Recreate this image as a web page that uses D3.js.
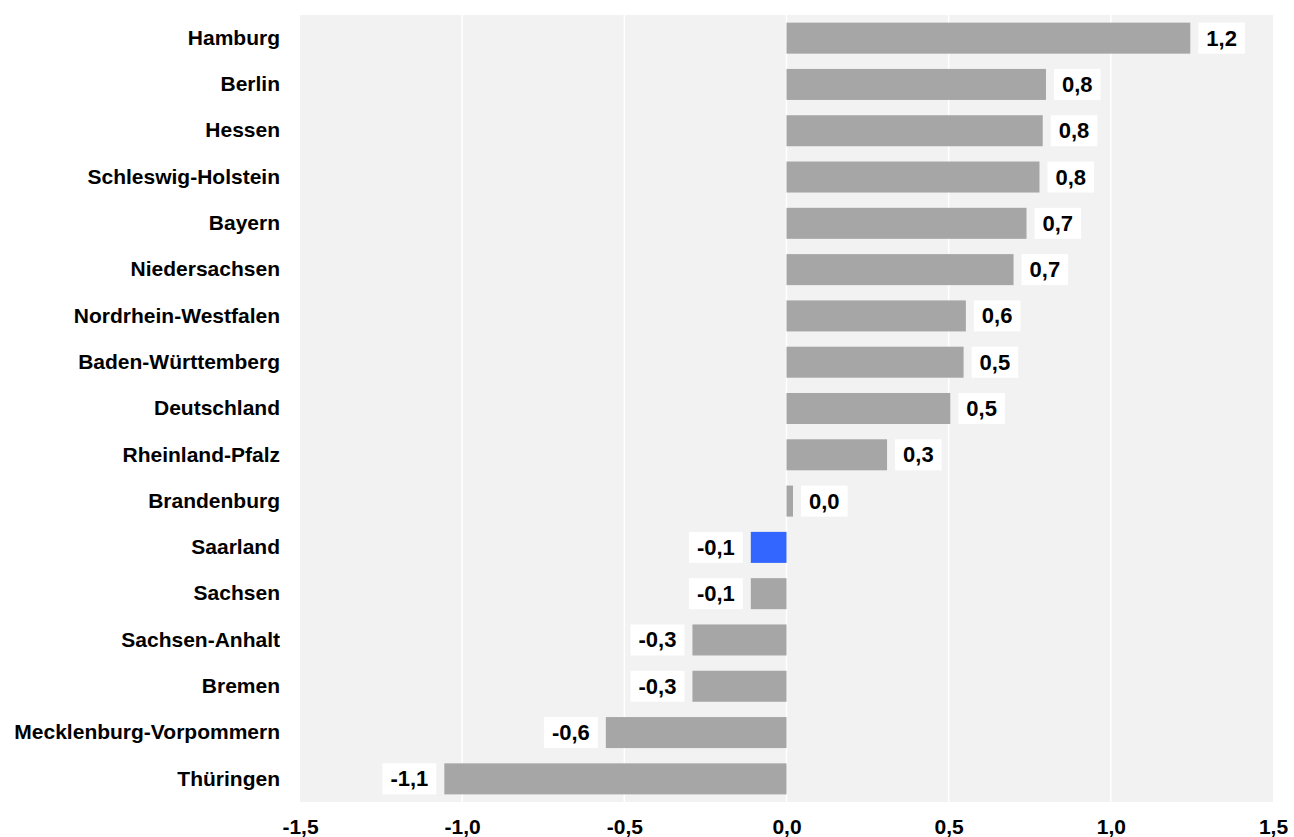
<!DOCTYPE html>
<html>
<head>
<meta charset="utf-8">
<script src="https://cdnjs.cloudflare.com/ajax/libs/d3/7.8.5/d3.min.js"></script>
<style>
body { margin: 0; background: #fff; }
text { font-family: "Liberation Sans", Arial, sans-serif; font-weight: bold; fill: #000; }
.grid line { stroke: #fff; stroke-width: 1.5; }
</style>
</head>
<body>
<script>

var laender = ["Hamburg", "Berlin", "Hessen", "Schleswig-Holstein", "Bayern", "Niedersachsen",
  "Nordrhein-Westfalen", "Baden-Württemberg", "Deutschland", "Rheinland-Pfalz", "Brandenburg",
  "Saarland", "Sachsen", "Sachsen-Anhalt", "Bremen", "Mecklenburg-Vorpommern", "Thüringen"]
var werte = [1.245, 0.80, 0.79, 0.78, 0.74, 0.70, 0.553, 0.546, 0.505, 0.31, 0.02,
  -0.11, -0.11, -0.29, -0.29, -0.557, -1.055]
var ticks = [-1.5, -1.0, -0.5, 0, 0.5, 1.0, 1.5]
var markiert = "Saarland"

var W = 1294, H = 837
var pLeft = 300, pRight = 1273, pTop = 15, pBottom = 802

var de = d3.formatLocale({decimal: ",", thousands: ".", grouping: [3], currency: ["", " €"], minus: "-"})
var fmt = de.format(".1f")

var x = d3.scaleLinear().domain([-1.5, 1.5]).range([pLeft, pRight])
var y = d3.scaleBand().domain(laender).range([pTop, pBottom]).paddingInner(0.33).paddingOuter(0.165)

var svg = d3.select("body").append("svg")
  .attr("width", W)
  .attr("height", H)

svg.append("rect")
  .attr("x", pLeft).attr("y", pTop)
  .attr("width", pRight - pLeft).attr("height", pBottom - pTop)
  .attr("fill", "#f2f2f2")

// gitterlinien
svg.append("g").attr("class", "grid")
  .selectAll("line")
  .data(ticks.slice(1, -1))
  .join("line")
  .attr("x1", d => x(d)).attr("x2", d => x(d))
  .attr("y1", pTop).attr("y2", pBottom)

var rows = svg.append("g")
  .selectAll("g")
  .data(laender.map((d, i) => ({name: d, wert: werte[i]})))
  .join("g")

rows.append("rect")
  .attr("x", d => Math.min(x(0), x(d.wert)))
  .attr("y", d => y(d.name))
  .attr("width", d => Math.abs(x(d.wert) - x(0)))
  .attr("height", y.bandwidth())
  .attr("fill", d => d.name == markiert ? "#3366ff" : "#a6a6a6")

// wertelabels mit weissem kasten
rows.each(function(d) {
  var g = d3.select(this)
  var box = g.append("rect").attr("fill", "#fff")
  var t = g.append("text")
    .attr("font-size", 22)
    .attr("text-anchor", "middle")
    .attr("dominant-baseline", "central")
    .attr("y", y(d.name) + y.bandwidth() / 2)
    .text(fmt(d.wert))
  var w = t.node().getComputedTextLength() + 16
  var x0 = d.wert >= 0 ? x(d.wert) + 8 : x(d.wert) - 8 - w
  t.attr("x", x0 + w / 2)
  box.attr("x", x0).attr("y", y(d.name)).attr("width", w).attr("height", y.bandwidth())
})

svg.append("g")
  .attr("transform", "translate(" + (pLeft - 20) + ",0)")
  .call(d3.axisLeft(y).tickSize(0).tickPadding(0))
  .call(g => g.select(".domain").remove())
  .selectAll("text")
  .attr("font-size", 21)
  .attr("font-family", null)

svg.append("g")
  .attr("transform", "translate(0," + pBottom + ")")
  .call(d3.axisBottom(x).tickValues(ticks).tickFormat(fmt).tickSize(0).tickPadding(17))
  .call(g => g.select(".domain").remove())
  .selectAll("text")
  .attr("font-size", 21)
  .attr("font-family", null)

</script>
</body>
</html>
